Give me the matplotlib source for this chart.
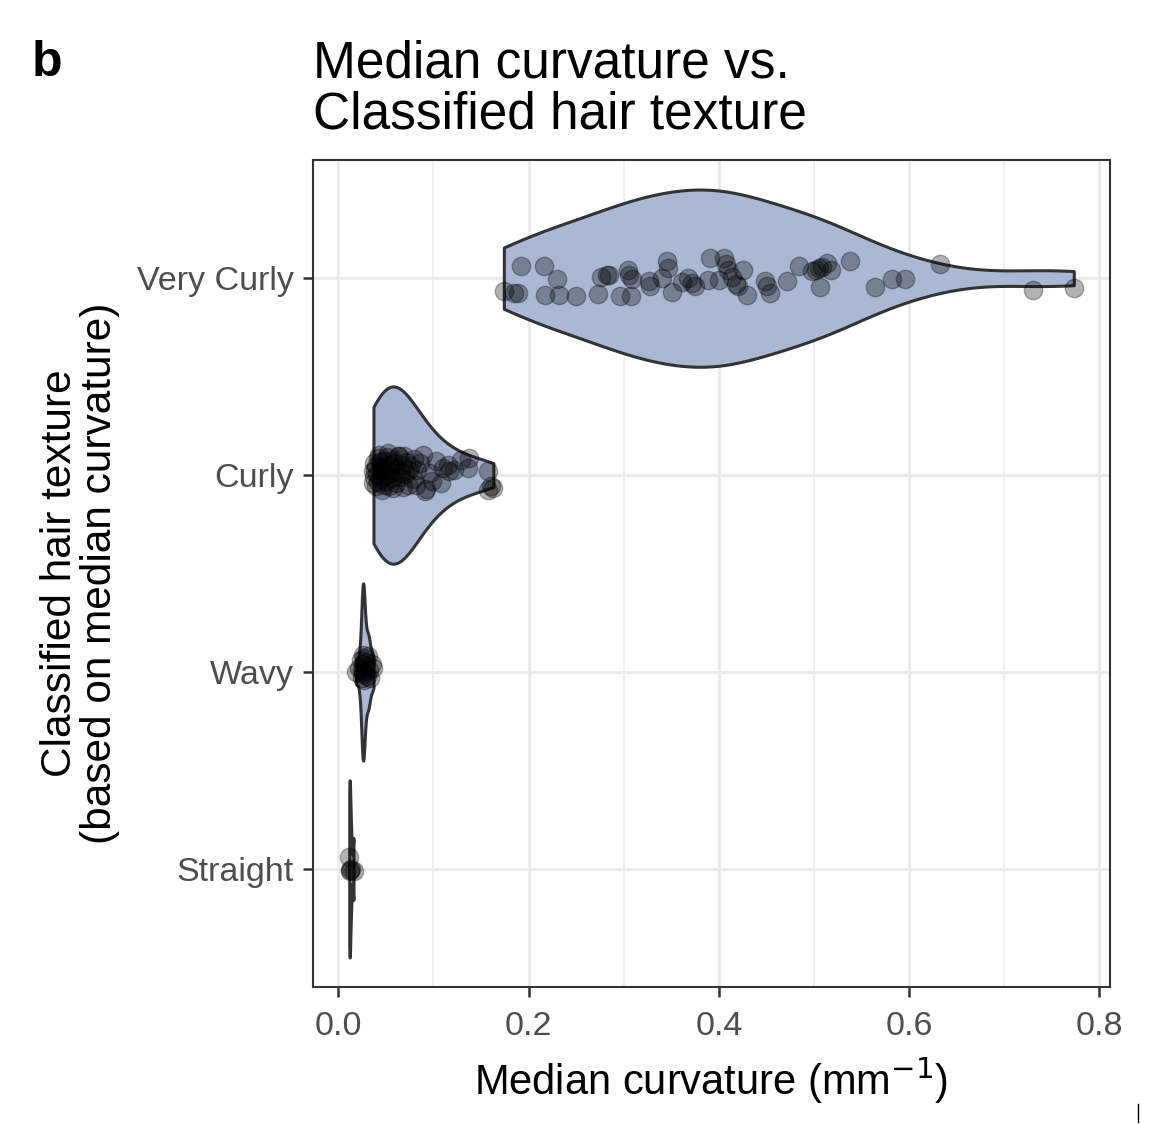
import numpy as np
import matplotlib
matplotlib.use("Agg")
import matplotlib.pyplot as plt
from matplotlib.lines import Line2D

plt.rcParams['font.family'] = ['Liberation Sans', 'DejaVu Sans']

# categories bottom -> top
categories = ["Straight", "Wavy", "Curly", "Very Curly"]

# median curvature (mm^-1) per hair and the vertical jitter
straight_x = [0.0115, 0.0120, 0.0122, 0.0135, 0.0160]
straight_dy = [0.062, -0.005, -0.012, 0.000, -0.010]

wavy_x = [0.019, 0.022, 0.024, 0.025, 0.025, 0.026, 0.026, 0.026, 0.026, 0.027,
          0.027, 0.028, 0.029, 0.030, 0.031, 0.032, 0.033, 0.035, 0.037]
wavy_dy = [0.000, 0.020, 0.060, -0.030, 0.010, 0.085, 0.040, -0.010, 0.000, 0.070,
           -0.040, 0.030, 0.050, -0.020, 0.080, 0.010, -0.030, 0.040, 0.020]

curly_x = [0.037, 0.037, 0.038, 0.039, 0.040, 0.041, 0.042, 0.043, 0.044, 0.045,
           0.046, 0.047, 0.048, 0.049, 0.050, 0.051, 0.052, 0.053, 0.054, 0.055,
           0.056, 0.057, 0.058, 0.059, 0.060, 0.061, 0.062, 0.063, 0.064, 0.065,
           0.066, 0.067, 0.068, 0.069, 0.070, 0.071, 0.073, 0.074, 0.076, 0.078,
           0.080, 0.082, 0.083, 0.086, 0.089, 0.091, 0.092, 0.096, 0.099, 0.103,
           0.108, 0.110, 0.115, 0.116, 0.122, 0.129, 0.136, 0.137, 0.157, 0.157,
           0.160, 0.163, 0.038, 0.040, 0.042, 0.044, 0.046, 0.048]
curly_dy = [0.019, -0.040, 0.060, 0.027, -0.058, 0.005, 0.085, 0.103, -0.020, 0.040,
            -0.075, 0.019, 0.070, -0.030, 0.000, 0.090, 0.112, -0.055, 0.010, 0.045,
            -0.015, -0.066, 0.075, 0.061, 0.020, -0.040, 0.030, 0.098, 0.095, -0.010,
            0.010, 0.050, -0.060, 0.095, 0.005, 0.065, -0.049, 0.025, 0.044, -0.020,
            0.080, -0.049, 0.027, 0.060, 0.103, -0.080, -0.070, 0.010, -0.032, 0.069,
            -0.041, 0.036, 0.052, 0.019, 0.027, 0.078, 0.036, 0.086, 0.019, -0.074,
            -0.058, -0.065, -0.010, 0.045, -0.035, 0.065, 0.025, -0.050]

vcurly_x = [0.174, 0.185, 0.189, 0.192, 0.216, 0.230, 0.217, 0.232, 0.250, 0.273,
            0.276, 0.282, 0.285, 0.296, 0.308, 0.305, 0.306, 0.309, 0.327, 0.328,
            0.340, 0.345, 0.347, 0.351, 0.361, 0.368, 0.372, 0.375, 0.389, 0.391,
            0.400, 0.405, 0.407, 0.410, 0.414, 0.418, 0.420, 0.425, 0.430, 0.448,
            0.451, 0.454, 0.472, 0.484, 0.498, 0.502, 0.505, 0.508, 0.514, 0.518,
            0.506, 0.538, 0.564, 0.582, 0.596, 0.632, 0.730, 0.773]
vcurly_dy = [-0.064, -0.073, -0.076, 0.064, 0.064, -0.003, -0.085, -0.085, -0.093, -0.081,
             0.008, 0.017, 0.017, -0.093, -0.093, 0.042, 0.017, -0.003, -0.017, -0.042,
             0.003, 0.088, 0.054, -0.071, -0.020, 0.000, -0.025, -0.042, -0.008, 0.102,
             -0.008, 0.102, 0.071, 0.042, 0.008, -0.030, -0.042, 0.042, -0.085, -0.017,
             -0.042, -0.076, -0.017, 0.064, 0.034, 0.042, 0.051, 0.059, 0.076, 0.042,
             -0.047, 0.088, -0.047, -0.003, -0.003, 0.071, -0.059, -0.051]

groups_x = [straight_x, wavy_x, curly_x, vcurly_x]
groups_dy = [straight_dy, wavy_dy, curly_dy, vcurly_dy]
# bandwidth multiplier for each violin
bw_adjust = [1.0, 0.8, 1.9, 1.0]

violin_fill = "#AAB8D5"
dark = "#333333"


def nrd0(x):
    x = np.asarray(x)
    hi = np.std(x, ddof=1)
    iqr = np.percentile(x, 75) - np.percentile(x, 25)
    lo = min(hi, iqr / 1.34) if iqr > 0 else hi
    return 0.9 * lo * len(x) ** -0.2


def kde(x, grid, bw):
    x = np.asarray(x)[:, None]
    return np.exp(-0.5 * ((grid[None, :] - x) / bw) ** 2).sum(axis=0)


fig = plt.figure(figsize=(11.56, 11.24), dpi=100)
ax = fig.add_axes([313 / 1156, 1 - 987 / 1124, (1110 - 313) / 1156, (987 - 160) / 1124])

for i, (xs, dys) in enumerate(zip(groups_x, groups_dy)):
    c = i + 1
    grid = np.linspace(min(xs), max(xs), 512)
    dens = kde(xs, grid, nrd0(xs) * bw_adjust[i])
    w = 0.45 * dens / dens.max()
    ax.fill_between(grid, c - w, c + w, facecolor=violin_fill, edgecolor=dark,
                    linewidth=2.2, zorder=2)
    ax.scatter(xs, c + np.asarray(dys), s=175, facecolor=(0, 0, 0, 0.3),
               edgecolor=(0, 0, 0, 0.3), linewidth=1.0, zorder=3)

all_x = np.concatenate([np.asarray(g) for g in groups_x])
span = all_x.max() - all_x.min()
ax.set_xlim(all_x.min() - 0.05 * span, all_x.max() + 0.05 * span)
ax.set_ylim(0.4, 4.6)

ax.set_xticks([0.0, 0.2, 0.4, 0.6, 0.8])
ax.set_xticklabels(["0.0", "0.2", "0.4", "0.6", "0.8"])
ax.set_xticks([0.1, 0.3, 0.5, 0.7], minor=True)
ax.set_yticks([1, 2, 3, 4])
ax.set_yticklabels(categories)

ax.grid(True, which="major", color="#EBEBEB", linewidth=2.2, zorder=0)
ax.grid(True, which="minor", axis="x", color="#EBEBEB", linewidth=1.1, zorder=0)
ax.set_axisbelow(True)
ax.tick_params(which="major", length=7, width=1.8, color=dark, labelcolor="#4D4D4D",
               labelsize=24.5, pad=7)
ax.tick_params(axis="x", which="major", pad=10)
ax.tick_params(which="minor", length=0)
for s in ax.spines.values():
    s.set_color(dark)
    s.set_linewidth(1.5)

ax.set_xlabel("Median curvature (mm$^{-1}$)", fontsize=30, labelpad=10)
ax.set_ylabel("Classified hair texture\n(based on median curvature)", fontsize=30.5,
              labelpad=12, linespacing=1.0)

fig.text(313 / 1156, 1 - 40 / 1124, "Median curvature vs.\nClassified hair texture",
         fontsize=37, va="top", ha="left", linespacing=1.05)
fig.text(32 / 1156, 1 - 40 / 1124, "b", fontsize=36, fontweight="bold", va="top", ha="left")
fig.add_artist(Line2D([1138 / 1156, 1138 / 1156], [1 - 1122 / 1124, 1 - 1104 / 1124],
                      color="black", linewidth=1.0))

fig.savefig("out.png", dpi=100)
